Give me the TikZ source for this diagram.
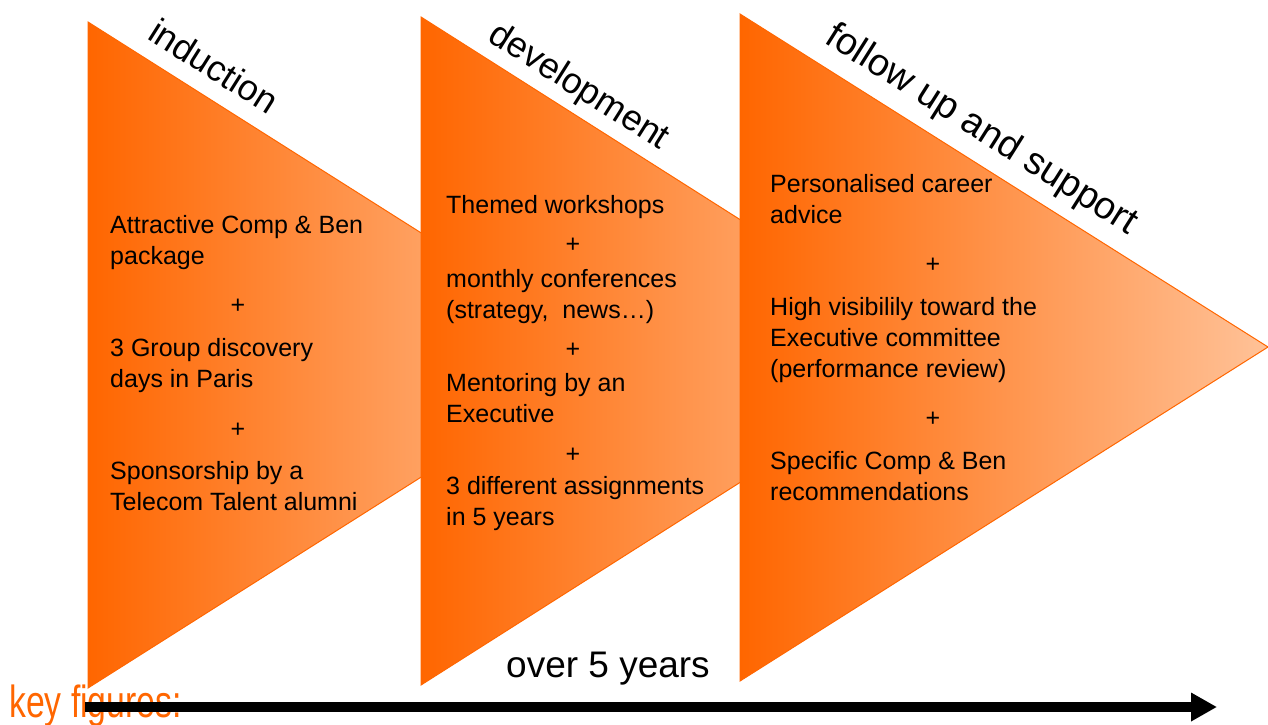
\documentclass[tikz,border=0pt]{standalone}
\usepackage{fontspec}
\setmainfont{Liberation Sans}
\usetikzlibrary{arrows.meta}

\definecolor{orangedeep}{HTML}{FF6600}
\definecolor{orangepale}{HTML}{FFC298}

\tikzset{
  phase/.style={left color=orangedeep, right color=orangepale, draw=orangedeep, line width=1pt, line join=miter},
  heading/.style={anchor=base west, inner sep=0pt, rotate=-32.3, font=\fontsize{36}{40}\selectfont},
  % multi-line items are placed by the baseline of their last line
  item/.style={anchor=base west, inner sep=0pt, align=left, font=\fontsize{25}{30.7}\selectfont},
  plus/.style={anchor=base, inner sep=0pt, font=\fontsize{25}{30}\selectfont},
}

\begin{document}
\begin{tikzpicture}[x=1pt, y=-1pt]
\useasboundingbox (0,0) rectangle (1268,724);
\clip (0,0) rectangle (1268,724);
\fill[white] (0,0) rectangle (1268,724);

% three overlapping phase arrows
\coordinate (p1a) at (88,22);  \coordinate (p1t) at (614,355);  \coordinate (p1b) at (88,688);
\coordinate (p2a) at (421,17); \coordinate (p2t) at (947,351);  \coordinate (p2b) at (421,685);
\coordinate (p3a) at (740,14); \coordinate (p3t) at (1268,347); \coordinate (p3b) at (740,681);
\path[phase] (p1a) -- (p1t) -- (p1b) -- cycle;
\path[phase] (p2a) -- (p2t) -- (p2b) -- cycle;
\path[phase] (p3a) -- (p3t) -- (p3b) -- cycle;

% phase titles along the upper edges
\node[heading] (h1) at (146,38) {induction};
\node[heading] (h2) at (486,40) {development};
\node[heading, font=\fontsize{38}{42}\selectfont] (h3) at (823,42) {follow up and support};

% induction
\node[item] (a1) at (110,264) {Attractive Comp \& Ben\\package};
\node[plus] (a2) at (238,313) {+};
\node[item] (a3) at (110,387) {3 Group discovery\\days in Paris};
\node[plus] (a4) at (238,437) {+};
\node[item] (a5) at (110,510) {Sponsorship by a\\Telecom Talent alumni};

% development
\node[item] (b1) at (446,213) {Themed workshops};
\node[plus] (b2) at (573,252) {+};
\node[item] (b3) at (446,318) {monthly conferences\\(strategy,~ news…)};
\node[plus] (b4) at (573,357) {+};
\node[item] (b5) at (446,422) {Mentoring by an\\Executive};
\node[plus] (b6) at (573,462) {+};
\node[item] (b7) at (446,525) {3 different assignments\\in 5 years};

% follow up and support
\node[item] (c1) at (770,223) {Personalised career\\advice};
\node[plus] (c2) at (933,272) {+};
\node[item] (c3) at (770,377) {High visibilily toward the\\Executive committee\\(performance review)};
\node[plus] (c4) at (933,426) {+};
\node[item] (c5) at (770,500) {Specific Comp \& Ben\\recommendations};

% time axis
\node[anchor=base west, inner sep=0pt, text=orangedeep, font=\fontsize{45}{50}\selectfont] (key) at (9,717) {\scalebox{0.75}[1]{key figures:}};
\node[anchor=base west, inner sep=0pt, font=\fontsize{37}{40}\selectfont] (span) at (506,677) {over 5 years};
\coordinate (axisL) at (85,707);
\coordinate (axisR) at (1217,707);
\draw[line width=10pt, -{Triangle[length=26pt, width=27pt]}] (axisL) -- (axisR);
\end{tikzpicture}
\end{document}
